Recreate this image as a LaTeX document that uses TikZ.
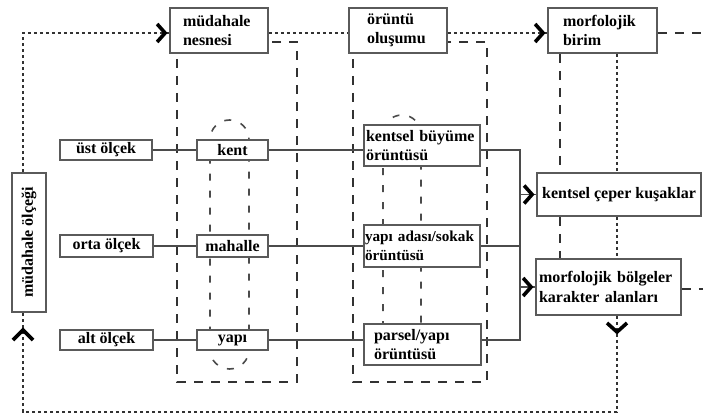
\documentclass[tikz,border=0pt]{standalone}
\usepackage{fontspec}
\setmainfont{Liberation Serif}
\usetikzlibrary{calc}
\definecolor{boxgray}{RGB}{90,90,90}
\definecolor{linegray}{RGB}{75,75,75}
\definecolor{dashgray}{RGB}{50,50,50}
\tikzset{
  box/.style={draw=boxgray, line width=1.8pt, fill=white, inner ysep=0pt,
    font=\fontsize{16}{19.5}\selectfont\bfseries, text=black},
  twoline/.style={box, align=left, text width=#1},
  conn/.style={draw=linegray, line width=1.6pt},
  dashrect/.style={draw=dashgray, line width=2.5pt, dash pattern=on 9pt off 8pt},
  stadium/.style={draw=linegray, line width=1.6pt, dash pattern=on 7pt off 10pt},
  dotline/.style={draw=dashgray, line width=2.2pt, dash pattern=on 3.5pt off 2.5pt},
  chevr/.style={draw=black, line width=3.6pt, line join=miter, line cap=butt}
}
\begin{document}
\begin{tikzpicture}[x=1pt,y=-1pt]
\useasboundingbox (0,0) rectangle (703,417);
% dashed frames and stadiums (behind nodes)
\draw[dashrect] (177,42) rectangle (297,382);
\draw[dashrect] (353,42) rectangle (487,382);
\draw[stadium, rounded corners=19.5pt] (210,120) rectangle (249,369);
\draw[stadium, rounded corners=19pt] (383,115) rectangle (421,362);
% guide coordinates
\coordinate (ux) at (23,0);
\coordinate (dx) at (560,0);
\coordinate (px) at (617,0);
\coordinate (tl) at (23,33);
\coordinate (cx) at (520,0);
% nodes
\node[box, minimum width=34pt, minimum height=139pt, inner sep=0pt] (olcegi) at (29,242.5) {\rotatebox{90}{müdahale ölçeği}};
\node[twoline=72pt, inner xsep=13pt, minimum height=45pt] (nesnesi) at (219,30.5) {müdahale\\nesnesi};
\node[twoline=62pt, inner xsep=18pt, minimum height=45pt] (olusumu) at (398,30.5) {örüntü\\oluşumu};
\node[twoline=79pt, inner xsep=15pt, minimum height=45pt] (birim) at (602.5,30.5) {morfolojik\\birim};
\node[box, minimum width=92pt, minimum height=20pt] (ust) at (106,150) {üst ölçek};
\node[box, minimum width=93pt, minimum height=22pt] (orta) at (106.5,246) {orta ölçek};
\node[box, minimum width=93pt, minimum height=20pt] (alt) at (106.5,340) {alt ölçek};
\node[box, minimum width=71pt, minimum height=20pt] (kent) at (232.5,150) {kent};
\node[box, minimum width=71pt, minimum height=22pt] (mahalle) at (232.5,246) {mahalle};
\node[box, minimum width=71pt, minimum height=20pt] (yapi) at (232.5,340) {yapı};
\node[twoline=112pt, inner xsep=2pt, minimum height=41pt] (buyume) at (422,145.5) {kentsel büyüme\\örüntüsü};
\node[twoline=114pt, inner xsep=1pt, minimum height=42pt, font=\fontsize{15.2}{19.5}\selectfont\bfseries] (sokak) at (422,246) {yapı adası/sokak\\örüntüsü};
\node[twoline=97pt, inner xsep=10pt, minimum height=41pt] (parsel) at (422.5,344.5) {parsel/yapı\\örüntüsü};
\node[box, minimum width=164pt, minimum height=43pt] (ceper) at (619,194.5) {kentsel çeper kuşaklar};
\node[twoline=139pt, inner xsep=3pt, minimum height=56pt] (bolgeler) at (608.5,287) {morfolojik bölgeler\\karakter alanları};
% end coordinates
\coordinate (re1) at (703,33);
\coordinate (re2) at (703,289);
\coordinate (da) at (617,332);
\coordinate (br) at (617,412);
\coordinate (bl) at (23,412);
\coordinate (ua) at (23,330);
\coordinate (c1) at (520,150);
\coordinate (c3) at (520,340);
% solid connectors
\draw[conn] (ust) -- (kent);
\draw[conn] (orta) -- (mahalle);
\draw[conn] (alt) -- (yapi);
\draw[conn] (kent.east) -- (kent.east -| buyume.west);
\draw[conn] (mahalle.east) -- (mahalle.east -| sokak.west);
\draw[conn] (yapi.east) -- (yapi.east -| parsel.west);
\draw[conn] (buyume.east |- c1) -- (c1) -- (c3) -- (parsel.east |- c3);
\draw[conn] (sokak.east) -- (sokak.east -| cx);
\draw[conn] (cx |- ceper.west) -- (ceper.west);
\draw[conn] (cx |- bolgeler.west) -- (bolgeler.west);
% top dotted flow
\draw[dotline] (olcegi.north -| ux) -- (tl) -- (tl -| nesnesi.west);
\draw[dotline] (tl -| nesnesi.east) -- (tl -| olusumu.west);
\draw[dotline] (tl -| olusumu.east) -- (tl -| birim.west);
\draw[dashrect] (tl -| birim.east) -- (re1);
% verticals from morfolojik birim
\draw[dashrect] (birim.south -| dx) -- (ceper.north -| dx);
\draw[dashrect] (ceper.south -| dx) -- (bolgeler.north -| dx);
\draw[dotline] (birim.south -| px) -- (ceper.north -| px);
\draw[dotline] (ceper.south -| px) -- (bolgeler.north -| px);
\draw[dashrect] (bolgeler.east |- re2) -- (re2);
% bottom dotted feedback
\draw[dotline] (bolgeler.south -| px) -- (br) -- (bl) -- (olcegi.south -| ux);
% chevron arrowheads
\draw[chevr] ($(tl -| nesnesi.west)+(-12,-9)$) -- ($(tl -| nesnesi.west)+(-4,0)$) -- ($(tl -| nesnesi.west)+(-12,9)$);
\draw[chevr] ($(tl -| birim.west)+(-12,-9)$) -- ($(tl -| birim.west)+(-4,0)$) -- ($(tl -| birim.west)+(-12,9)$);
\draw[chevr] ($(ceper.west)+(-12,-9)$) -- ($(ceper.west)+(-4,0)$) -- ($(ceper.west)+(-12,9)$);
\draw[chevr] ($(bolgeler.west)+(-12,-9)$) -- ($(bolgeler.west)+(-4,0)$) -- ($(bolgeler.west)+(-12,9)$);
\draw[chevr] ($(da)+(-10,-9)$) -- (da) -- ($(da)+(10,-9)$);
\draw[chevr] ($(ua)+(-10,10)$) -- (ua) -- ($(ua)+(10,10)$);
\end{tikzpicture}
\end{document}
